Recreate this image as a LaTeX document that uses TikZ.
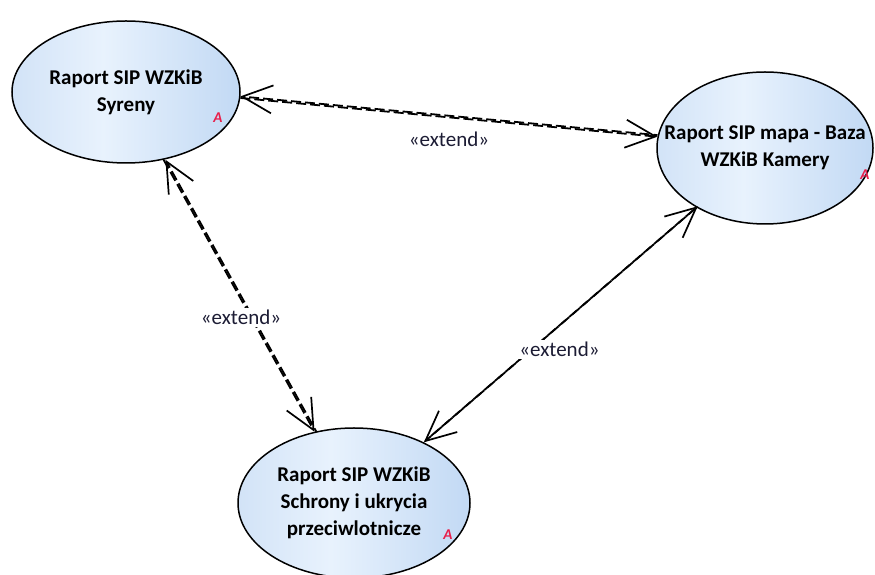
\documentclass[tikz,border=0pt]{standalone}
\usepackage{fontspec}
\setmainfont{Carlito}
\usetikzlibrary{arrows.meta,shapes.geometric}

\definecolor{ucleft}{RGB}{210,227,247}
\definecolor{ucmid}{RGB}{232,242,253}
\definecolor{ucright}{RGB}{194,217,244}
\definecolor{labelink}{RGB}{28,28,52}
\definecolor{amark}{RGB}{232,30,74}

\pgfdeclarehorizontalshading{ucshade}{100bp}{
    color(0bp)=(ucleft); color(25bp)=(ucleft); color(45bp)=(ucmid);
    color(75bp)=(ucright); color(100bp)=(ucright)}

\tikzset{
    usecase/.style={ellipse, draw=black, line width=1.5pt, shading=ucshade, align=center, font=\fontsize{21}{27}\selectfont\bfseries, inner sep=-40pt},
    extline/.style={line width=1.8pt, dash pattern=on 10pt off 4pt, -{Straight Barb[length=30pt,width=28pt,line width=1.7pt]}},
    extlabel/.style={fill=white, text=labelink, font=\fontsize{21}{25}\selectfont, inner sep=2pt},
    absmark/.style={text=amark, font=\fontsize{15}{15}\selectfont\itshape\bfseries, inner sep=0pt}
}

\begin{document}
\begin{tikzpicture}[x=1pt, y=1pt]
    \useasboundingbox (0,0) rectangle (875,575);

    % use cases
    \node[usecase, minimum width=228pt, minimum height=142pt] (syr) at (126,483) {Raport SIP WZKiB\\Syreny};
    \node[usecase, minimum width=216pt, minimum height=152pt] (kam) at (765,427) {Raport SIP mapa - Baza\\WZKiB Kamery};
    \node[usecase, minimum width=232pt, minimum height=150pt] (sch) at (354,72) {Raport SIP WZKiB\\Schrony i ukrycia\\przeciwlotnicze};

    % abstract marks
    \node[absmark] (syrA) at (218,457) {A};
    \node[absmark] (kamA) at (865,400) {A};
    \node[absmark] (schA) at (448,40) {A};

    % Syreny <-> Kamery
    \draw[extline] (syr.-3) -- (kam.174);
    \draw[extline, dash phase=6pt, transform canvas={yshift=1.6pt}] (kam.174) -- (syr.-3);
    \node[extlabel] (ext1) at (449,436) {«extend»};

    % Syreny <-> Schrony
    \draw[extline] (syr.-61) -- (sch.119);
    \draw[extline, dash phase=6pt, transform canvas={xshift=1.9pt}] (sch.119) -- (syr.-61)
        node[extlabel, pos=0.42, xshift=-12pt] (ext2) {«extend»};

    % Kamery <-> Schrony
    \draw[extline] (kam.-139.5) -- (sch.41);
    \draw[extline, dash phase=6pt, transform canvas={xshift=1.3pt,yshift=1.3pt}] (sch.41) -- (kam.-139.5)
        node[extlabel, pos=0.39, xshift=28pt] (ext3) {«extend»};
\end{tikzpicture}
\end{document}
